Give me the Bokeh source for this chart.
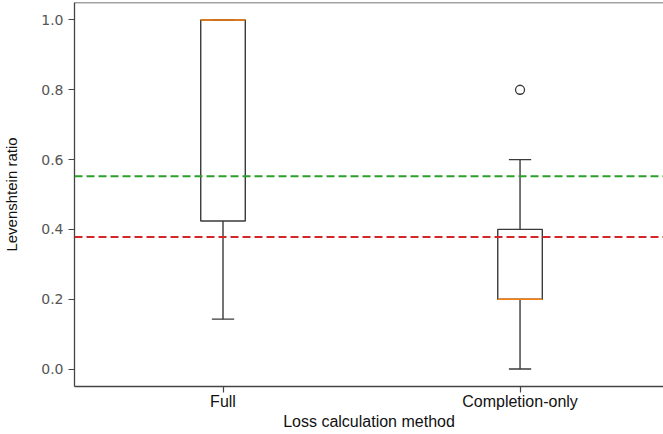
from bokeh.plotting import figure
from bokeh.models import Span, FixedTicker, PrintfTickFormatter, Range1d
from bokeh.embed import file_html
from bokeh.resources import INLINE

# Box-plot summary for each loss calculation method
methods = ["Full", "Completion-only"]
positions = [1, 2]
whisker_low = [0.143, 0.0]
q1 = [0.424, 0.2]
median = [1.0, 0.2]
q3 = [1.0, 0.4]
whisker_high = [1.0, 0.6]
outlier_pos = [2]
outlier_val = [0.8]

# Reference levels
green_level = 0.552
red_level = 0.378

box_width = 0.15
cap_width = box_width / 2
edge = "#3a3a3a"

p = figure(
    width=663, height=434,
    x_range=Range1d(0.5, 2.483), y_range=Range1d(-0.05, 1.05),
    output_backend="svg", toolbar_location=None,
    min_border_left=74, min_border_right=0, min_border_top=2, min_border_bottom=48,
)
p.outline_line_color = None
p.grid.grid_line_color = None

# whiskers
p.segment(x0=positions, y0=whisker_low, x1=positions, y1=q1, line_color=edge, line_width=1.4)
p.segment(x0=positions, y0=q3, x1=positions, y1=whisker_high, line_color=edge, line_width=1.4)
# caps
cap_l = [x - cap_width / 2 for x in positions]
cap_r = [x + cap_width / 2 for x in positions]
p.segment(x0=cap_l, y0=whisker_low, x1=cap_r, y1=whisker_low, line_color=edge, line_width=1.4)
p.segment(x0=cap_l, y0=whisker_high, x1=cap_r, y1=whisker_high, line_color=edge, line_width=1.4)
# boxes
p.vbar(x=positions, width=box_width, bottom=q1, top=q3, fill_color=None,
       line_color=edge, line_width=1.4)
# medians
box_l = [x - box_width / 2 for x in positions]
box_r = [x + box_width / 2 for x in positions]
p.segment(x0=box_l, y0=median, x1=box_r, y1=median, line_color="#ff7f0e", line_width=1.6)
# outliers
p.scatter(x=outlier_pos, y=outlier_val, marker="circle", size=9, fill_color=None,
          line_color=edge, line_width=1.3)

# reference lines
p.add_layout(Span(location=green_level, dimension="width", line_color="#2ca02c",
                  line_width=2, line_dash="8 4"))
p.add_layout(Span(location=red_level, dimension="width", line_color="#d62728",
                  line_width=2, line_dash="8 4"))
# top border of the plotting area
p.add_layout(Span(location=1.05, dimension="width", line_color="#444444", line_width=1.3))

# axes
p.xaxis.ticker = FixedTicker(ticks=positions)
p.xaxis.major_label_overrides = {pos: name for pos, name in zip(positions, methods)}
p.xaxis.axis_label = "Loss calculation method"
p.yaxis.ticker = FixedTicker(ticks=[0.0, 0.2, 0.4, 0.6, 0.8, 1.0])
p.yaxis.formatter = PrintfTickFormatter(format="%.1f")
p.yaxis.axis_label = "Levenshtein ratio"

for ax in (p.xaxis[0], p.yaxis[0]):
    ax.axis_line_color = "#444444"
    ax.axis_line_width = 1.3
    ax.major_tick_line_color = "#444444"
    ax.major_tick_line_width = 1.2
    ax.major_tick_out = 6
    ax.major_tick_in = 0
    ax.minor_tick_line_color = None
    ax.axis_label_text_font = "Liberation Sans"
    ax.axis_label_text_font_style = "normal"
    ax.axis_label_text_color = "#111111"

p.xaxis.axis_label_text_font_size = "16px"
p.yaxis.axis_label_text_font_size = "15px"

p.xaxis.major_label_text_font = "Liberation Sans"
p.xaxis.major_label_text_font_size = "16px"
p.xaxis.major_label_text_color = "#111111"
p.xaxis.major_label_standoff = 0
p.xaxis.axis_label_standoff = 0

p.yaxis.major_label_text_font = "DejaVu Sans"
p.yaxis.major_label_text_font_size = "14px"
p.yaxis.major_label_text_color = "#555555"
p.yaxis.major_label_standoff = 5
p.yaxis.axis_label_standoff = 18

open("out.html", "w").write(file_html(p, INLINE))
